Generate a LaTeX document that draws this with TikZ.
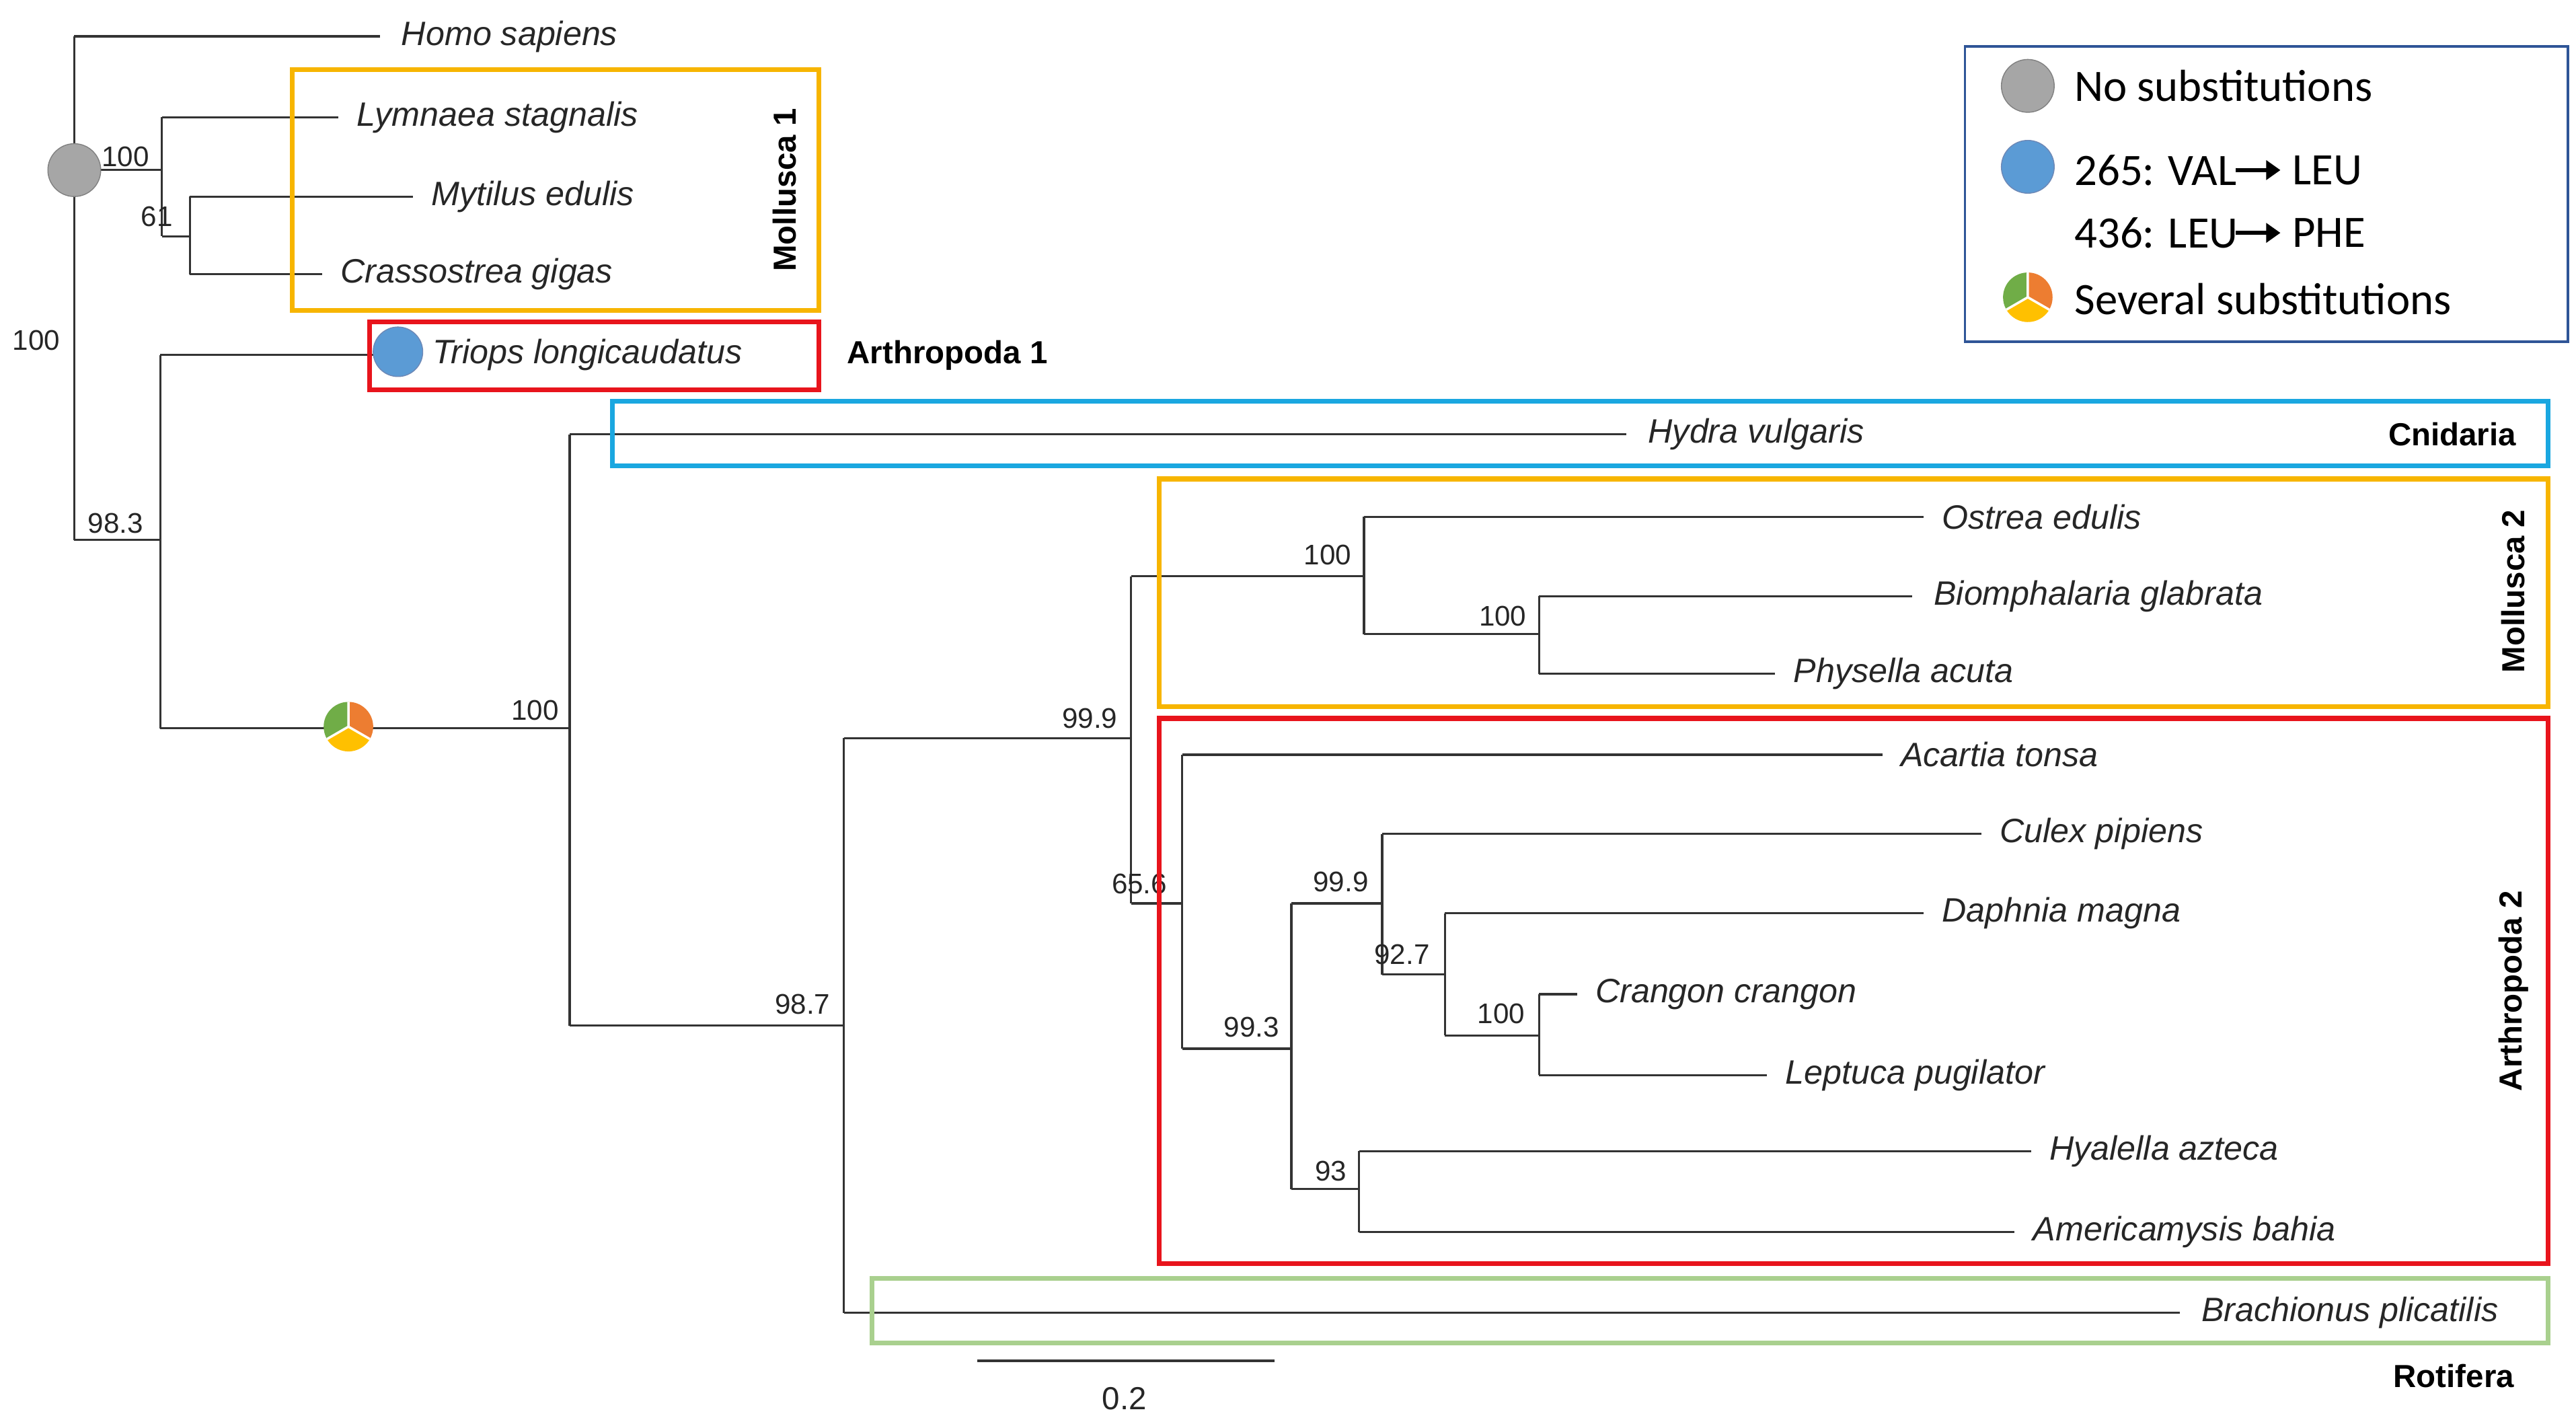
\documentclass[tikz,border=0pt]{standalone}
\usepackage{amsmath}
\usepackage{fontspec}
\setmainfont{Liberation Sans}
\newfontfamily\legfont{Carlito}
\usetikzlibrary{arrows.meta}
\begin{document}
\begin{tikzpicture}[x=0.02455cm,y=-0.02455cm,
  br/.style={line width=0.9pt,black!80},
  tx/.style={anchor=west,font=\fontsize{14.3}{16}\selectfont\itshape,text=black!85,inner sep=2pt},
  bs/.style={font=\fontsize{12}{14}\selectfont,text=black!85,inner sep=1pt},
  clade/.style={font=\fontsize{13.5}{16}\selectfont\bfseries},
  box/.style={line width=2pt},
  leg/.style={anchor=west,font=\legfont\fontsize{19}{22}\selectfont,inner sep=0pt},
  larr/.style={line width=1.8pt,-{Triangle[length=6pt,width=8pt]}}]
\definecolor{cy}{HTML}{F7B500}\definecolor{cr}{HTML}{E8141C}
\definecolor{cb}{HTML}{1AA7E0}\definecolor{cg}{HTML}{A9D08E}
\definecolor{pg}{HTML}{70AD47}\definecolor{po}{HTML}{ED7D31}\definecolor{pyl}{HTML}{FFC000}
\definecolor{bl}{HTML}{5B9BD5}\definecolor{lb}{HTML}{2F5597}
\useasboundingbox (0,0) rectangle (1560,859.5);
% tree
\draw[br] (45,22) -- (45,327);
\draw[br] (45,22) -- (230,22);
\draw[br] (45,103) -- (98,103) (98,71) -- (98,143) (98,71) -- (205,71)
  (98,143) -- (115,143) (115,119) -- (115,166) (115,119) -- (250,119) (115,166) -- (195,166);
\draw[br] (45,327) -- (97,327) (97,215) -- (97,441) (97,215) -- (230,215) (97,441) -- (345,441)
  (345,263) -- (345,621) (345,263) -- (985,263) (345,621) -- (511,621)
  (511,447) -- (511,795) (511,795) -- (1320,795) (511,447) -- (685,447)
  (685,349) -- (685,547) (685,349) -- (826,349) (826,313) -- (826,384) (826,313) -- (1165,313)
  (826,384) -- (932,384) (932,361) -- (932,408) (932,361) -- (1158,361) (932,408) -- (1075,408)
  (685,547) -- (716,547) (716,457) -- (716,635) (716,457) -- (1140,457) (716,635) -- (782,635)
  (782,547) -- (782,720) (782,547) -- (837,547) (837,505) -- (837,590) (837,505) -- (1200,505)
  (837,590) -- (875,590) (875,553) -- (875,627) (875,553) -- (1165,553) (875,627) -- (932,627)
  (932,602) -- (932,651) (932,602) -- (955,602) (932,651) -- (1070,651)
  (782,720) -- (823,720) (823,697) -- (823,746) (823,697) -- (1230,697) (823,746) -- (1220,746);
% taxa
\node[tx] (hs) at (240,22) {Homo sapiens};
\node[tx] (ly) at (213,71) {Lymnaea stagnalis};
\node[tx] (my) at (258,119) {Mytilus edulis};
\node[tx] (cg) at (203,166) {Crassostrea gigas};
\node[tx] (tl) at (259,215) {Triops longicaudatus};
\node[tx] (hv) at (995,263) {Hydra vulgaris};
\node[tx] (oe) at (1173,313) {Ostrea edulis};
\node[tx] (bg) at (1168,361) {Biomphalaria glabrata};
\node[tx] (pa) at (1083,408) {Physella acuta};
\node[tx] (at) at (1148,457) {Acartia tonsa};
\node[tx] (cp) at (1208,505) {Culex pipiens};
\node[tx] (dm) at (1173,553) {Daphnia magna};
\node[tx] (cc) at (963,602) {Crangon crangon};
\node[tx] (lp) at (1078,651) {Leptuca pugilator};
\node[tx] (ha) at (1238,697) {Hyalella azteca};
\node[tx] (ab) at (1228,746) {Americamysis bahia};
\node[tx] (bp) at (1330,795) {Brachionus plicatilis};
% support
\node[bs] at (76,95) {100};
\node[bs] at (95,131) {61};
\node[bs] at (22,206) {100};
\node[bs] at (70,317) {98.3};
\node[bs] at (324,430) {100};
\node[bs] at (486,608) {98.7};
\node[bs] at (660,435) {99.9};
\node[bs] at (804,336) {100};
\node[bs] at (910,373) {100};
\node[bs] at (690,535) {65.6};
\node[bs] at (758,622) {99.3};
\node[bs] at (812,534) {99.9};
\node[bs] at (849,578) {92.7};
\node[bs] at (909,614) {100};
\node[bs] at (806,709) {93};
% boxes
\draw[box,cy] (177,42) rectangle (496,188);
\draw[box,cr] (224,195) rectangle (496,236);
\draw[box,cb] (371,243) rectangle (1543,282);
\draw[box,cy] (702,290) rectangle (1543,428);
\draw[box,cr] (702,435) rectangle (1543,765);
\draw[box,cg] (528,774) rectangle (1543,813);
\node[clade,rotate=90] (m1) at (475,115) {Mollusca 1};
\node[clade,anchor=west] (a1) at (508,215) {Arthropoda 1};
\node[clade] (cn) at (1485,263) {Cnidaria};
\node[clade,rotate=90] (m2) at (1522,358) {Mollusca 2};
\node[clade,rotate=90] (a2) at (1522,600) {Arthropoda 2};
\node[clade] (ro) at (1486,833) {Rotifera};
% scale bar
\draw[br] (592,824) -- (772,824);
\node[bs,font=\fontsize{13.5}{16}\selectfont] (sb) at (681,847) {0.2};
% markers
\fill[gray!70,draw=gray] (45,103) circle (16);
\fill[bl,draw=lb!70] (241,213) circle (15);
\newcommand{\pie}[2]{%
 \fill[pg] (#1,#2) -- ++(90:-15) arc[start angle=-90,end angle=-210,radius=15] -- cycle;
 \fill[po] (#1,#2) -- ++(-90:15) arc[start angle=-90,end angle=30,radius=15] -- cycle;
 \fill[pyl] (#1,#2) -- ++(30:15) arc[start angle=30,end angle=150,radius=15] -- cycle;
 \draw[white,line width=1pt] (#1,#2) -- ++(0,-15) (#1,#2) -- ++(30:15) (#1,#2) -- ++(150:15);}
\pie{211}{440}
% legend
\draw[lb,line width=1pt] (1190,28) rectangle (1555,207);
\fill[gray!70,draw=gray] (1228,52) circle (16);
\fill[bl,draw=lb!70] (1228,101) circle (16);
\pie{1228}{180}
\node[leg] (l1) at (1256,52) {No substitutions};
\node[leg] (l2a) at (1256,103) {265: VAL};
\coordinate (a2s) at (1354,103); \coordinate (a2e) at (1381,103);
\draw[larr] (a2s) -- (a2e);
\node[leg] (l2b) at (1388,103) {LEU};
\node[leg] (l3a) at (1256,141) {436: LEU};
\coordinate (a3s) at (1354,141); \coordinate (a3e) at (1381,141);
\draw[larr] (a3s) -- (a3e);
\node[leg] (l3b) at (1388,141) {PHE};
\node[leg] (l4) at (1256,181) {Several substitutions};
\end{tikzpicture}
\end{document}
